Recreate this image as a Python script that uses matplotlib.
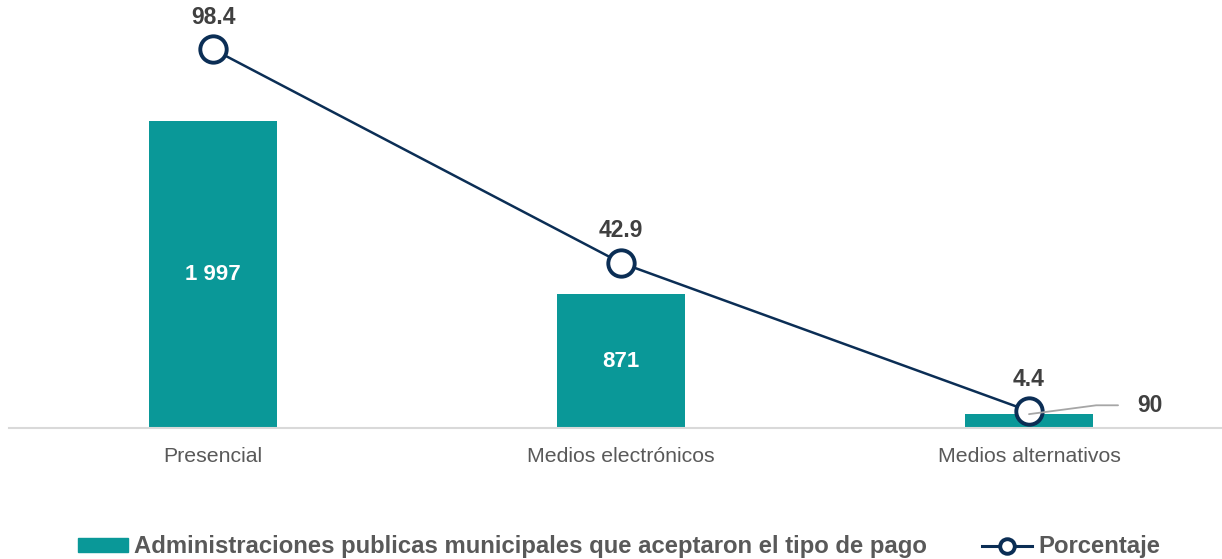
import matplotlib.pyplot as plt
from matplotlib.lines import Line2D
from matplotlib.patches import Patch

categorias = ['Presencial', 'Medios electrónicos', 'Medios alternativos']
administraciones = [1997, 871, 90]
porcentaje = [98.4, 42.9, 4.4]
etiquetas_barras = ['1 997', '871', '90']

verde = '#0A9898'
azul = '#0B2E55'
gris_texto = '#404040'
gris_eje = '#595959'

plt.rcParams['font.family'] = ['Liberation Sans', 'DejaVu Sans']

fig = plt.figure(figsize=(12.22, 5.59), dpi=100)
ax = fig.add_axes([9 / 1222, 1 - 428 / 559, 1224 / 1222, 418 / 559])
ax2 = ax.twinx()

x = list(range(len(categorias)))
ax.bar(x, administraciones, width=0.314, color=verde, zorder=2)
for xi, v, t in zip(x, administraciones, etiquetas_barras):
    if v > 500:
        ax.text(xi, v / 2, t, ha='center', va='center', color='white',
                fontsize=16, fontweight='bold')

ax.set_xlim(-0.5, 2.5)
ax.set_ylim(0, 2719)
ax.set_xticks(x)
ax.set_xticklabels(categorias, fontsize=15.3, color=gris_eje)
ax.tick_params(axis='x', length=0, pad=14)
ax.set_yticks([])
for s in ['top', 'right', 'left']:
    ax.spines[s].set_visible(False)
ax.spines['bottom'].set_color('#D9D9D9')
ax.spines['bottom'].set_linewidth(1.5)

ax2.plot(x, porcentaje, color=azul, lw=1.8, marker='o', markersize=19,
         markerfacecolor='white', markeredgecolor=azul, markeredgewidth=2.8, zorder=3)
ax2.set_ylim(0, 108.6)
ax2.set_yticks([])
for s in ['top', 'right', 'left', 'bottom']:
    ax2.spines[s].set_visible(False)
for xi, p in zip(x, porcentaje):
    ax2.annotate(f'{p}', (xi, p), xytext=(0, 23), textcoords='offset points',
                 ha='center', va='center', fontsize=16.5, fontweight='bold',
                 color=gris_texto)

# etiqueta de la barra pequeña con linea guia
ax2.annotate(etiquetas_barras[2], xy=(2, porcentaje[2] - 0.8), xytext=(2.297, 5.9),
             ha='center', va='center', fontsize=16.5, fontweight='bold', color=gris_texto,
             zorder=4,
             arrowprops=dict(arrowstyle='-', color='#A6A6A6', lw=1.3,
                             connectionstyle='angle,angleA=0,angleB=7.5,rad=0',
                             shrinkA=12, shrinkB=0))

handles = [Patch(color=verde, label='Administraciones publicas municipales que aceptaron el tipo de pago'),
           Line2D([], [], color=azul, lw=2.2, marker='o', markersize=10.5,
                  markerfacecolor='white', markeredgecolor=azul, markeredgewidth=2.8,
                  label='Porcentaje')]
leg = fig.legend(handles=handles, loc='center', bbox_to_anchor=(0.5065, 1 - 547 / 559),
                 ncol=2, frameon=False, fontsize=17.2, handlelength=2.1, handletextpad=0.25,
                 columnspacing=2.3, handleheight=0.55)
for t in leg.get_texts():
    t.set_color(gris_eje)
    t.set_fontweight('bold')

fig.savefig('out.png', dpi=100)
